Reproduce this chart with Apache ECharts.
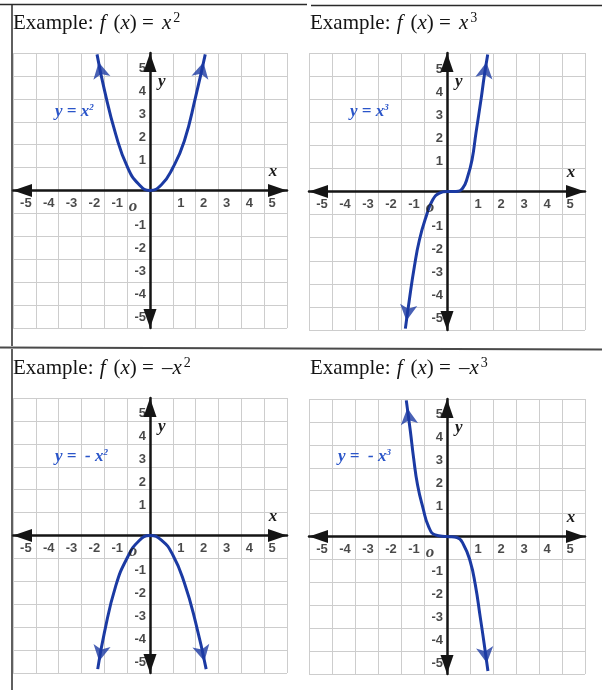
<!DOCTYPE html>
<html>
<head>
<meta charset="utf-8">
<script src="https://cdn.jsdelivr.net/npm/echarts@6/dist/echarts.min.js"></script>
<style>
  html, body { margin: 0; padding: 0; background: #ffffff; }
  #chart { width: 602px; height: 690px; }
</style>
</head>
<body>
<div id="chart"></div>
<script>
// Shared axis range for the four coordinate planes
const axisMin = -6;
const axisMax = 6;
const axisStep = 1;
// Numbered ticks along both axes
const tickValues = [-5, -4, -3, -2, -1, 1, 2, 3, 4, 5];

// Points (x, y in plane units)
const squareX = [-2.32, -2.0, -1.5, -1.0, -0.5, 0, 0.5, 1.0, 1.5, 2.0, 2.42];
const squareY = [5.94, 4.40, 2.45, 1.05, 0.28, 0, 0.25, 0.99, 2.15, 4.10, 5.94];

const cubeX = [-1.81, -1.64, -1.42, -1.20, -0.91, -0.62, -0.33, 0, 0.39, 0.68, 0.90, 1.09, 1.26, 1.48, 1.62, 1.77];
const cubeY = [-5.94, -4.71, -3.26, -2.10, -1.09, -0.36, -0.07, 0, 0, 0.14, 0.65, 1.38, 2.54, 3.99, 5.00, 5.94];

const negSquareX = [-2.29, -2.0, -1.5, -1.0, -0.5, 0, 0.5, 1.0, 1.5, 2.0, 2.46];
const negSquareY = [-5.83, -4.25, -2.20, -0.98, -0.25, 0, -0.20, -0.85, -2.05, -3.80, -5.83];

const negCubeX = [-1.77, -1.59, -1.45, -1.28, -1.04, -0.80, -0.51, 0, 0.43, 0.72, 1.01, 1.23, 1.45, 1.62, 1.78];
const negCubeY = [5.94, 4.57, 3.41, 2.25, 1.23, 0.43, 0.07, 0, -0.04, -0.36, -1.09, -2.10, -3.55, -4.71, -5.87];

// Heading of each plane: function body and exponent
const headingExpr = ['x', 'x', '\u2013x', '\u2013x'];
const headingPower = ['2', '3', '2', '3'];

// Curve captions: text before the exponent, and the exponent
const captionText = ['y = x', 'y = x', 'y =  - x', 'y =  - x'];
const captionPower = ['2', '3', '2', '3'];

// ---- layout & styling ----
const plots = [
  { left: 13,  top: 53,  width: 274, height: 275 },
  { left: 309, top: 53,  width: 276, height: 277 },
  { left: 13,  top: 398, width: 274, height: 275 },
  { left: 309, top: 399, width: 276, height: 275 }
];
const headingPos = [[13, 8], [310, 8], [13, 353], [310, 353]];
const captionPos = [[55, 113], [350, 113], [55, 458], [338, 458]];

const CURVE_COLOR = '#1b3aa3';
const CAPTION_COLOR = '#2a55c9';
const AXIS_COLOR = '#151515';
const GRID_COLOR = '#cdcdcd';
const INK = '#1c1c1c';
const CURVE_ARROW = [13, 16];
const AXIS_ARROW = [13, 19];
const serif = 'Liberation Serif, Times New Roman, serif';
const tickFont = { fontFamily: 'Liberation Sans, Arial, sans-serif', fontWeight: 'bold', fontSize: 13, color: INK };

const curves = [
  [squareX, squareY],
  [cubeX, cubeY],
  [negSquareX, negSquareY],
  [negCubeX, negCubeY]
];

function pairs(xs, ys) { return xs.map((x, i) => [x, ys[i]]); }

// Arrowhead sitting on one end of a curve, tip on the end point
function arrowAt(pts, atEnd) {
  const n = pts.length;
  const tip = atEnd ? pts[n - 1] : pts[0];
  const prev = atEnd ? pts[n - 2] : pts[1];
  const dx = tip[0] - prev[0];
  const dy = tip[1] - prev[1];
  const len = Math.hypot(dx, dy);
  const ux = dx / len, uy = -dy / len;
  const rot = Math.atan2(-dx, dy) * 180 / Math.PI;
  const back = CURVE_ARROW[1] / 2;
  return { value: tip, symbolRotate: rot, symbolOffset: [-ux * back, -uy * back] };
}

// Invisible anchor points carrying the axis numbers as labels
function labelSeries(i, data, label) {
  return {
    type: 'scatter', xAxisIndex: i, yAxisIndex: i, data: data,
    symbol: 'circle', symbolSize: 1, itemStyle: { color: 'transparent' },
    silent: true, z: 8, clip: false,
    label: Object.assign({ show: true, position: 'inside' }, label)
  };
}

const grid = [], xAxis = [], yAxis = [], series = [], title = [], graphic = [];
const posTicks = tickValues.filter(v => v > 0);
const negTicks = tickValues.filter(v => v < 0);

plots.forEach((p, i) => {
  grid.push({ left: p.left, top: p.top, width: p.width, height: p.height, containLabel: false });

  const axisLine = {
    onZero: true,
    lineStyle: { color: AXIS_COLOR, width: 2.5 },
    symbol: ['triangle', 'triangle'],
    symbolSize: AXIS_ARROW,
    symbolOffset: [AXIS_ARROW[1] / 2, -AXIS_ARROW[1] / 2]
  };
  const common = {
    gridIndex: i, type: 'value', min: axisMin, max: axisMax, interval: axisStep,
    axisLine: axisLine,
    axisTick: { show: false },
    axisLabel: { show: false },
    splitLine: { show: true, lineStyle: { color: GRID_COLOR, width: 1 } },
    nameLocation: 'end', nameMoveOverlap: false
  };

  xAxis.push(Object.assign({}, common, {
    name: 'x', nameGap: -14,
    nameTextStyle: { fontFamily: serif, fontStyle: 'italic', fontWeight: 'bold', fontSize: 17, color: INK,
      align: 'center', verticalAlign: 'bottom', padding: [0, 0, 10, 0] }
  }));
  yAxis.push(Object.assign({}, common, {
    name: 'y', nameGap: -29,
    nameTextStyle: { fontFamily: serif, fontStyle: 'italic', fontWeight: 'bold', fontSize: 17, color: INK,
      align: 'left', verticalAlign: 'middle', padding: [0, 0, 0, 8] }
  }));

  const pts = pairs(curves[i][0], curves[i][1]);
  series.push({
    type: 'line', xAxisIndex: i, yAxisIndex: i, data: pts,
    smooth: 0.5, showSymbol: false, symbol: 'none', clip: false,
    lineStyle: { color: CURVE_COLOR, width: 3 }, z: 5, silent: true
  });
  series.push({
    type: 'scatter', xAxisIndex: i, yAxisIndex: i,
    data: [arrowAt(pts, false), arrowAt(pts, true)],
    symbol: 'arrow', symbolSize: CURVE_ARROW, clip: false,
    itemStyle: { color: CURVE_COLOR }, z: 6, silent: true
  });

  // Axis numbers: pushed slightly away from the origin, as on a hand-drawn grid
  const fmt = prm => String(prm.value[0] !== 0 ? prm.value[0] : prm.value[1]);
  series.push(labelSeries(i, posTicks.map(v => [v, 0]), Object.assign({}, tickFont, { formatter: fmt, offset: [8, 13] })));
  series.push(labelSeries(i, negTicks.map(v => [v, 0]), Object.assign({}, tickFont, { formatter: fmt, offset: [-10, 13] })));
  series.push(labelSeries(i, posTicks.map(v => [0, v]), Object.assign({}, tickFont, { formatter: fmt, align: 'right', offset: [-4, -7] })));
  series.push(labelSeries(i, negTicks.map(v => [0, v]), Object.assign({}, tickFont, { formatter: fmt, align: 'right', offset: [-4, 12] })));
  series.push(labelSeries(i, [[0, 0]], {
    formatter: 'o', fontFamily: serif, fontStyle: 'italic', fontWeight: 'bold', fontSize: 17, color: INK, offset: [-17, 16]
  }));

  const hd = { fontFamily: serif, fontWeight: 'normal', fontSize: 21, color: '#141414', lineHeight: 26, verticalAlign: 'bottom' };
  title.push({
    left: headingPos[i][0], top: headingPos[i][1], padding: 0,
    text: '{r|Example: }{f|f}{r|(}{i|x}{r|) =}{v|' + headingExpr[i] + '}{s|' + headingPower[i] + '}',
    textStyle: {
      fontWeight: 'normal',
      rich: {
        r: hd,
        i: Object.assign({}, hd, { fontStyle: 'italic' }),
        f: Object.assign({}, hd, { fontStyle: 'italic', padding: [0, 8, 0, 1] }),
        v: Object.assign({}, hd, { fontStyle: 'italic', padding: [0, 0, 0, 8] }),
        s: { fontFamily: serif, fontWeight: 'normal', fontSize: 14, color: '#141414', lineHeight: 26, verticalAlign: 'bottom', padding: [0, 0, 9, 2] }
      }
    }
  });

  graphic.push({
    type: 'text', left: captionPos[i][0], top: captionPos[i][1] - 10, z: 10,
    style: {
      text: '{c|' + captionText[i] + '}{s|' + captionPower[i] + '}',
      rich: {
        c: { fontFamily: serif, fontStyle: 'italic', fontWeight: 'bold', fontSize: 17, fill: CAPTION_COLOR, lineHeight: 20, verticalAlign: 'bottom' },
        s: { fontFamily: serif, fontStyle: 'italic', fontWeight: 'bold', fontSize: 9, fill: CAPTION_COLOR, lineHeight: 20, verticalAlign: 'bottom', padding: [0, 0, 8, 0] }
      }
    }
  });
});

// Frame lines around the sheet
const frame = [
  [0, 4.5, 307, 4.5], [311, 5.5, 602, 5.5],
  [12, 4.5, 12, 346], [12, 349, 12, 690],
  [0, 347.5, 602, 349.5]
];
frame.forEach((f, k) => {
  graphic.push({
    type: 'line', z: 20, silent: true,
    shape: { x1: f[0], y1: f[1], x2: f[2], y2: f[3] },
    style: { stroke: k === 4 ? '#4a4a4a' : '#2a2a2a', lineWidth: k === 4 ? 2 : 1.5 }
  });
});

const chart = echarts.init(document.getElementById('chart'), null, { renderer: 'canvas' });
chart.setOption({
  animation: false,
  backgroundColor: '#ffffff',
  title: title,
  grid: grid,
  xAxis: xAxis,
  yAxis: yAxis,
  series: series,
  graphic: graphic
});
</script>
</body>
</html>
